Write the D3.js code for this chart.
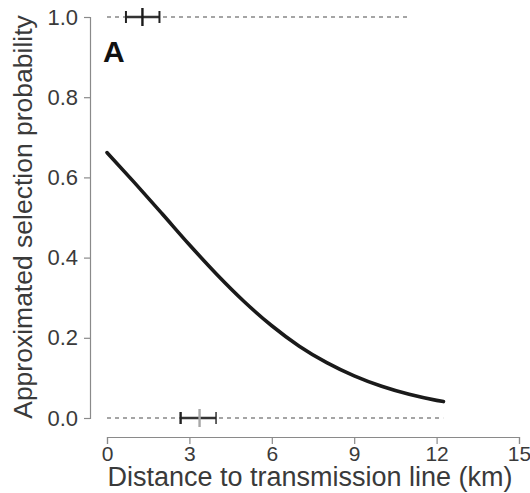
<!DOCTYPE html>
<html>
<head>
<meta charset="utf-8">
<script src="https://cdn.jsdelivr.net/npm/d3@7"></script>
<style>
    body { margin: 0; background: #fff; }
    svg text { font-family: "Liberation Sans", Arial, Helvetica, sans-serif; }
</style>
</head>
<body>
<div id="chart"></div>
<script>
// Fitted curve
const curveX = [0, 1, 2, 3, 4, 5, 6, 7, 8, 9, 10, 11, 12, 12.25];
const curveY = [0.662, 0.587, 0.51, 0.432, 0.358, 0.29, 0.23, 0.179, 0.138, 0.105, 0.079, 0.059, 0.044, 0.041];

// Intervals on the 1.0 and 0.0 lines: [low, mean, high]
const topInterval = [0.69, 1.29, 1.91];
const bottomInterval = [2.68, 3.37, 3.97];

// Extent of the dashed reference lines
const topDashed = [0, 11.05];
const bottomDashed = [0, 12.24];

const xTicks = [0, 3, 6, 9, 12, 15];
const yTicks = [0, 0.2, 0.4, 0.6, 0.8, 1.0];

const width = 530, height = 493;
const axisGray = '#8a8a8a';
const textGray = '#3a3a3a';

const svg = d3.select('#chart')
    .append('svg')
    .attr('width', width)
    .attr('height', height);

const x = d3.scaleLinear().domain([0, 15]).range([107, 519]);
const y = d3.scaleLinear().domain([0, 1]).range([418, 17]);

// X axis (offset below the plot)
const xAxis = svg.append('g')
    .attr('transform', 'translate(0,437)')
    .call(d3.axisBottom(x).tickValues(xTicks).tickSize(7).tickPadding(2).tickFormat(d3.format('d')));
xAxis.select('.domain').attr('stroke', axisGray).attr('stroke-width', 1.2);
xAxis.selectAll('.tick line').attr('stroke', axisGray).attr('stroke-width', 1.2);
xAxis.selectAll('.tick text')
    .attr('fill', textGray)
    .style('font-size', '21px');

// Y axis (offset left of the plot)
const yAxis = svg.append('g')
    .attr('transform', 'translate(90,0)')
    .call(d3.axisLeft(y).tickValues(yTicks).tickSize(6).tickPadding(6).tickFormat(d3.format('.1f')));
yAxis.select('.domain').attr('stroke', axisGray).attr('stroke-width', 1.2);
yAxis.selectAll('.tick line').attr('stroke', axisGray).attr('stroke-width', 1.2);
yAxis.selectAll('.tick text')
    .attr('fill', textGray)
    .style('font-size', '22px');

// Dashed reference lines at 0 and 1
[[topDashed, 1], [bottomDashed, 0]].forEach(([ext, lvl]) => {
    svg.append('line')
        .attr('x1', x(ext[0])).attr('x2', x(ext[1]))
        .attr('y1', y(lvl)).attr('y2', y(lvl))
        .attr('stroke', '#888')
        .attr('stroke-width', 1.3)
        .attr('stroke-dasharray', '4,4');
});

// Interval markers
function drawInterval(iv, lvl, opts) {
    const cy = y(lvl);
    svg.append('line')
        .attr('x1', x(iv[0])).attr('x2', x(iv[2]))
        .attr('y1', cy).attr('y2', cy)
        .attr('stroke', '#333').attr('stroke-width', 2.6);
    svg.append('line')
        .attr('x1', x(iv[0])).attr('x2', x(iv[0]))
        .attr('y1', cy - 6).attr('y2', cy + 6)
        .attr('stroke', '#222').attr('stroke-width', opts.leftW);
    svg.append('line')
        .attr('x1', x(iv[2])).attr('x2', x(iv[2]))
        .attr('y1', cy - 6).attr('y2', cy + 6)
        .attr('stroke', '#222').attr('stroke-width', opts.rightW);
    svg.append('line')
        .attr('x1', x(iv[1])).attr('x2', x(iv[1]))
        .attr('y1', cy - 9).attr('y2', cy + 9)
        .attr('stroke', opts.midColor).attr('stroke-width', 2.4);
}
drawInterval(topInterval, 1, { leftW: 2, rightW: 2, midColor: '#1a1a1a' });
drawInterval(bottomInterval, 0, { leftW: 2.4, rightW: 1.4, midColor: '#a8a8a8' });

// Fitted curve
const line = d3.line()
    .x((d, i) => x(curveX[i]))
    .y(d => y(d))
    .curve(d3.curveMonotoneX);

svg.append('path')
    .datum(curveY)
    .attr('d', line)
    .attr('fill', 'none')
    .attr('stroke', '#1a1a1a')
    .attr('stroke-width', 3.6)
    .attr('stroke-linecap', 'round');

// Panel label
svg.append('text')
    .attr('x', 103)
    .attr('y', 62)
    .attr('fill', '#111')
    .style('font-size', '30px')
    .style('font-weight', 'bold')
    .text('A');

// Axis titles
svg.append('text')
    .attr('x', 310)
    .attr('y', 486)
    .attr('text-anchor', 'middle')
    .attr('fill', textGray)
    .style('font-size', '27px')
    .text('Distance to transmission line (km)');

svg.append('text')
    .attr('transform', 'translate(32,217) rotate(-90)')
    .attr('text-anchor', 'middle')
    .attr('fill', textGray)
    .style('font-size', '26.5px')
    .text('Approximated selection probability');
</script>
</body>
</html>
